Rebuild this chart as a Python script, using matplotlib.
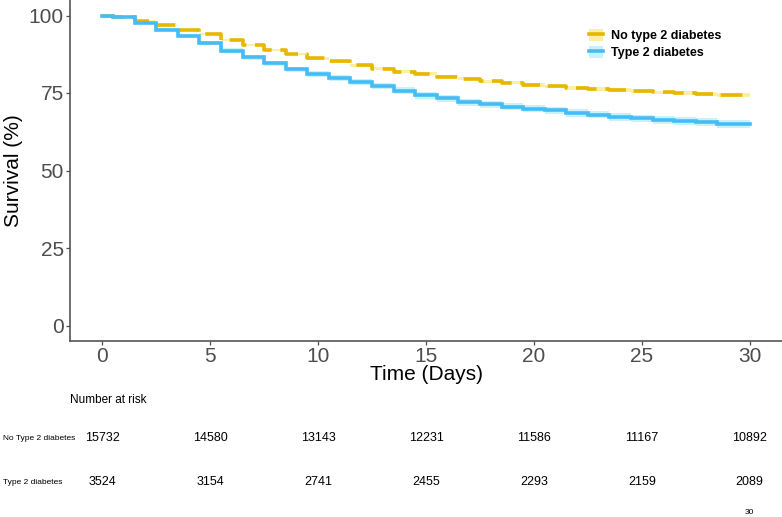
import matplotlib
matplotlib.use("Agg")
import matplotlib.pyplot as plt
import matplotlib.transforms as mtransforms
from matplotlib.patches import Patch
from matplotlib.lines import Line2D
import numpy as np

plt.rcParams['font.family'] = ['Liberation Sans', 'DejaVu Sans']

# ---------------- data ----------------
step_times = [0, 0.5, 1.5, 2.5, 3.5, 4.5, 5.5, 6.5, 7.5, 8.5, 9.5, 10.5, 11.5, 12.5,
              13.5, 14.5, 15.5, 16.5, 17.5, 18.5, 19.5, 20.5, 21.5, 22.5, 23.5,
              24.5, 25.5, 26.5, 27.5, 28.5, 29.5]
end_time = 30

surv_no_t2d = [100, 99.5, 98.2, 96.8, 95.4, 94.0, 92.2, 90.5, 88.9, 87.6, 86.2, 85.2,
               83.9, 82.8, 81.9, 81.2, 80.3, 79.6, 78.8, 78.3, 77.6, 77.1, 76.7, 76.3,
               76.0, 75.6, 75.2, 75.0, 74.7, 74.3, 74.3]
ci_no_t2d = [0, 0.1, 0.2, 0.25, 0.3, 0.3, 0.35, 0.35, 0.4, 0.4, 0.4, 0.45, 0.45, 0.45,
             0.5, 0.5, 0.5, 0.5, 0.55, 0.55, 0.55, 0.55, 0.6, 0.6, 0.6, 0.6, 0.6,
             0.6, 0.6, 0.65, 0.65]

surv_t2d = [100, 99.5, 97.6, 95.4, 93.5, 91.1, 88.7, 86.6, 84.6, 82.6, 81.2, 79.9,
            78.5, 77.2, 75.8, 74.3, 73.3, 72.0, 71.3, 70.6, 69.9, 69.4, 68.6, 68.0,
            67.2, 66.8, 66.4, 66.0, 65.7, 65.1, 65.0]
ci_t2d = [0, 0.2, 0.4, 0.5, 0.6, 0.7, 0.75, 0.8, 0.85, 0.9, 0.95, 1.0, 1.0, 1.05,
          1.05, 1.1, 1.1, 1.1, 1.15, 1.15, 1.15, 1.2, 1.2, 1.2, 1.2, 1.25, 1.25,
          1.25, 1.25, 1.3, 1.3]

legend_labels = ["No type 2 diabetes", "Type 2 diabetes"]
risk_labels = ["No Type 2 diabetes", "Type 2 diabetes"]
risk_times = [0, 5, 10, 15, 20, 25, 30]
risk_no_t2d = [15732, 14580, 13143, 12231, 11586, 11167, 10892]
risk_t2d = [3524, 3154, 2741, 2455, 2293, 2159, 2089]

x_ticks = [0, 5, 10, 15, 20, 25, 30]
y_ticks = [0, 25, 50, 75, 100]

# ---------------- style ----------------
yellow = "#E7B800"
yellow_fill = "#FAEFA6"
blue = "#45BDF4"
blue_fill = "#C6F2FC"

W, H = 782, 517
fig = plt.figure(figsize=(W / 100, H / 100), dpi=100)


def fx(px):
    return px / W


def fy(py):
    return 1 - py / H


ax = fig.add_axes([fx(70), fy(341), fx(782) - fx(70), fy(0) - fy(341)])

t = np.array(step_times + [end_time])


def ext(v):
    v = list(v)
    return np.array(v + [v[-1]])


for surv, ci, fcol in [
    (surv_no_t2d, ci_no_t2d, yellow_fill),
    (surv_t2d, ci_t2d, blue_fill),
]:
    s = ext(surv)
    c = ext(ci)
    ax.fill_between(t, s - c, s + c, step='post', color=fcol, lw=0, zorder=1)

for surv, col, ls in [
    (surv_no_t2d, yellow, (0, (6, 2.4))),
    (surv_t2d, blue, '-'),
]:
    s = ext(surv)
    ax.step(t, s, where='post', color=col, lw=2.6, linestyle=ls, zorder=3,
            solid_joinstyle='miter', dash_capstyle='butt')

ax.set_xlim(-1.5, 31.5)
ax.set_ylim(-5, 105)
ax.set_xticks(x_ticks)
ax.set_yticks(y_ticks)
ax.tick_params(axis='both', labelsize=15, colors='#4D4D4D', length=3, width=0.9,
               pad=1.5)
for sp in ['top', 'right']:
    ax.spines[sp].set_visible(False)
for sp in ['left', 'bottom']:
    ax.spines[sp].set_color('#555555')
    ax.spines[sp].set_linewidth(1.2)

ax.set_xlabel("Time (Days)", fontsize=15, color='black', labelpad=-1)
ax.set_ylabel("Survival (%)", fontsize=15, color='black', labelpad=4)

# legend
handles = [
    (Patch(facecolor=yellow_fill, edgecolor='none'), Line2D([], [], color=yellow, lw=2.6)),
    (Patch(facecolor=blue_fill, edgecolor='none'), Line2D([], [], color=blue, lw=2.6)),
]
leg = fig.legend(handles, legend_labels, loc='upper left',
                 bbox_to_anchor=(fx(589), fy(29)), frameon=False,
                 prop={'weight': 'bold', 'size': 9}, handlelength=1.15,
                 handleheight=1.15, handletextpad=0.6, labelspacing=0.25,
                 borderpad=0, borderaxespad=0)

# risk table
trans = mtransforms.blended_transform_factory(ax.transData, fig.transFigure)
fig.text(fx(70), fy(400), "Number at risk", fontsize=8.5, ha='left', va='center')
fig.text(fx(3), fy(438), risk_labels[0], fontsize=6, ha='left', va='center')
fig.text(fx(3), fy(482), risk_labels[1], fontsize=6, ha='left', va='center')
for tt, n1, n2 in zip(risk_times, risk_no_t2d, risk_t2d):
    ax.text(tt, fy(438), str(n1), transform=trans, fontsize=9, ha='center', va='center',
            clip_on=False)
    ax.text(tt, fy(482), str(n2), transform=trans, fontsize=9, ha='center', va='center',
            clip_on=False)
ax.text(30, fy(513), "30", transform=trans, fontsize=6, ha='center', va='center',
        clip_on=False)

fig.savefig("out.png", dpi=100)
